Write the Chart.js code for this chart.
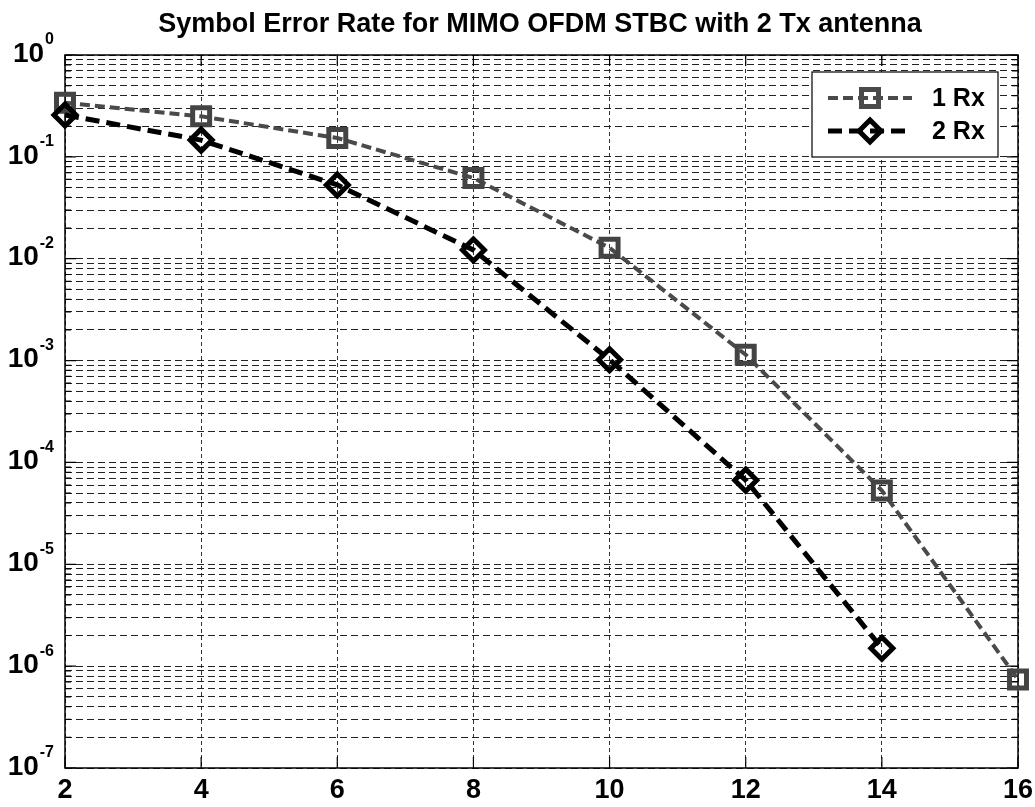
<!DOCTYPE html>
<html>
<head>
<meta charset="utf-8">
<script src="https://cdn.jsdelivr.net/npm/chart.js@4"></script>
<style>
    html, body { margin: 0; padding: 0; background: #fff; }
    #wrap { width: 1035px; height: 807px; }
</style>
</head>
<body>
<div id="wrap"><canvas id="serChart" width="1035" height="807"></canvas></div>
<script>
// Data (SNR in dB vs symbol error rate)
const snrValues = [2, 4, 6, 8, 10, 12, 14, 16];
const ser1Rx = [0.34, 0.25, 0.153, 0.062, 0.0128, 0.00114, 5.3e-5, 7.4e-7];
const ser2Rx = [0.258, 0.146, 0.053, 0.0122, 0.00102, 6.7e-5, 1.5e-6];
const seriesNames = ['1 Rx', '2 Rx'];
const xTicks = [2, 4, 6, 8, 10, 12, 14, 16];
const yExponents = [-7, -6, -5, -4, -3, -2, -1, 0];
const titleText = 'Symbol Error Rate for MIMO OFDM STBC with 2 Tx antenna';

const FONT = '"Liberation Sans", Arial, sans-serif';

// log grid: 1..9 x 10^k for every decade
function logGridValues() {
    const vals = [];
    for (let i = 0; i < yExponents.length; i++) {
        const e = yExponents[i];
        if (e === 0) { vals.push(1); break; }
        for (let m = 1; m <= 9; m++) vals.push(m * Math.pow(10, e));
    }
    return vals;
}

function toPoints(ys) {
    return ys.map((y, i) => ({ x: snrValues[i], y: y }));
}

function drawSquare(ctx, x, y, side) {
    ctx.beginPath();
    ctx.rect(x - side / 2, y - side / 2, side, side);
    ctx.stroke();
}

function drawDiamond(ctx, x, y, r) {
    ctx.beginPath();
    ctx.moveTo(x, y - r);
    ctx.lineTo(x + r, y);
    ctx.lineTo(x, y + r);
    ctx.lineTo(x - r, y);
    ctx.closePath();
    ctx.stroke();
}

// frame, inward ticks, tick labels, title and legend (MATLAB look)
const decorPlugin = {
    id: 'decor',
    beforeDatasetsDraw(chart) {
        const ctx = chart.ctx;
        const area = chart.chartArea;
        const xs = chart.scales.x;
        const ys = chart.scales.y;
        ctx.save();
        ctx.strokeStyle = '#000';
        ctx.lineWidth = 1.5;
        ctx.setLineDash([]);
        ctx.strokeRect(area.left, area.top, area.right - area.left, area.bottom - area.top);

        // inward tick marks
        ctx.lineWidth = 1.2;
        ctx.beginPath();
        ys.ticks.forEach(t => {
            const py = ys.getPixelForValue(t.value);
            const major = Math.abs(Math.log10(t.value) - Math.round(Math.log10(t.value))) < 1e-6;
            const len = major ? 11 : 6;
            ctx.moveTo(area.left, py); ctx.lineTo(area.left + len, py);
            ctx.moveTo(area.right, py); ctx.lineTo(area.right - len, py);
        });
        xs.ticks.forEach(t => {
            const px = xs.getPixelForValue(t.value);
            ctx.moveTo(px, area.bottom); ctx.lineTo(px, area.bottom - 11);
            ctx.moveTo(px, area.top); ctx.lineTo(px, area.top + 11);
        });
        ctx.stroke();
        ctx.restore();
    },
    afterDraw(chart) {
        const ctx = chart.ctx;
        const xs = chart.scales.x;
        const ys = chart.scales.y;

        ctx.save();
        ctx.fillStyle = '#000';

        // y labels 10^e
        yExponents.forEach(e => {
            const py = ys.getPixelForValue(Math.pow(10, e));
            const expStr = e === 0 ? '0' : '-' + Math.abs(e);
            ctx.font = 'bold 16px ' + FONT;
            const ew = ctx.measureText(expStr).width;
            const right = 54;
            ctx.textAlign = 'left';
            ctx.textBaseline = 'middle';
            ctx.fillText(expStr, right - ew, py - 15);
            ctx.font = 'bold 28px ' + FONT;
            ctx.textAlign = 'right';
            ctx.fillText('10', right - ew - 1, py - 1);
        });

        // x labels
        ctx.font = 'bold 27px ' + FONT;
        ctx.textAlign = 'center';
        ctx.textBaseline = 'middle';
        xTicks.forEach(v => {
            ctx.fillText(String(v), xs.getPixelForValue(v), 791);
        });

        // title
        ctx.font = 'bold 27px ' + FONT;
        ctx.textAlign = 'center';
        ctx.textBaseline = 'alphabetic';
        ctx.fillText(titleText, 540, 32);

        // legend
        const lx = 812, ly = 72, lw = 186, lh = 85;
        ctx.fillStyle = '#fff';
        ctx.fillRect(lx, ly, lw, lh);
        ctx.strokeStyle = '#000';
        ctx.lineWidth = 1.2;
        ctx.strokeRect(lx, ly, lw, lh);

        const rows = [98, 131];
        chart.data.datasets.forEach((ds, i) => {
            const ry = rows[i];
            ctx.strokeStyle = ds.borderColor;
            ctx.lineWidth = ds.borderWidth;
            ctx.setLineDash(ds.borderDash);
            ctx.beginPath();
            ctx.moveTo(828, ry);
            ctx.lineTo(912, ry);
            ctx.stroke();
            ctx.setLineDash([]);
            ctx.lineWidth = ds.pointBorderWidth;
            if (ds.pointStyle === 'rect') drawSquare(ctx, 870, ry, 17);
            else drawDiamond(ctx, 870, ry, 11);
            ctx.fillStyle = '#000';
            ctx.font = 'bold 25px ' + FONT;
            ctx.textAlign = 'left';
            ctx.textBaseline = 'middle';
            ctx.fillText(seriesNames[i], 932, ry + 1);
        });
        ctx.restore();
    }
};

const ctx = document.getElementById('serChart').getContext('2d');
const serChart = new Chart(ctx, {
    type: 'line',
    data: {
        datasets: [{
            label: seriesNames[0],
            data: toPoints(ser1Rx),
            order: 2,
            clip: false,
            borderColor: '#4a4a4a',
            borderWidth: 4,
            borderDash: [10, 5],
            pointStyle: 'rect',
            pointRadius: 12,
            pointBorderWidth: 5,
            pointBorderColor: '#444',
            pointBackgroundColor: 'rgba(0,0,0,0)',
            tension: 0,
            fill: false
        }, {
            label: seriesNames[1],
            data: toPoints(ser2Rx),
            order: 1,
            clip: false,
            borderColor: '#000',
            borderWidth: 5,
            borderDash: [14, 7],
            pointStyle: 'rectRot',
            pointRadius: 11,
            pointBorderWidth: 5,
            pointBorderColor: '#000',
            pointBackgroundColor: 'rgba(0,0,0,0)',
            tension: 0,
            fill: false
        }]
    },
    options: {
        responsive: false,
        animation: false,
        devicePixelRatio: 1,
        layout: { padding: { left: 0, top: 55, right: 17, bottom: 0 } },
        plugins: {
            legend: { display: false },
            title: { display: false },
            tooltip: { enabled: false }
        },
        scales: {
            x: {
                type: 'linear',
                min: 2,
                max: 16,
                afterBuildTicks: scale => { scale.ticks = xTicks.map(v => ({ value: v })); },
                afterFit: scale => { scale.height = 39; },
                ticks: { display: false },
                grid: { color: '#333', lineWidth: 1, drawTicks: false },
                border: { display: false, dash: [4, 3] }
            },
            y: {
                type: 'logarithmic',
                min: 1e-7,
                max: 1,
                afterBuildTicks: scale => { scale.ticks = logGridValues().map(v => ({ value: v })); },
                afterFit: scale => { scale.width = 65; },
                ticks: { display: false },
                grid: { color: '#222', lineWidth: 1, drawTicks: false },
                border: { display: false, dash: [7, 4] }
            }
        }
    },
    plugins: [decorPlugin]
});
</script>
</body>
</html>
